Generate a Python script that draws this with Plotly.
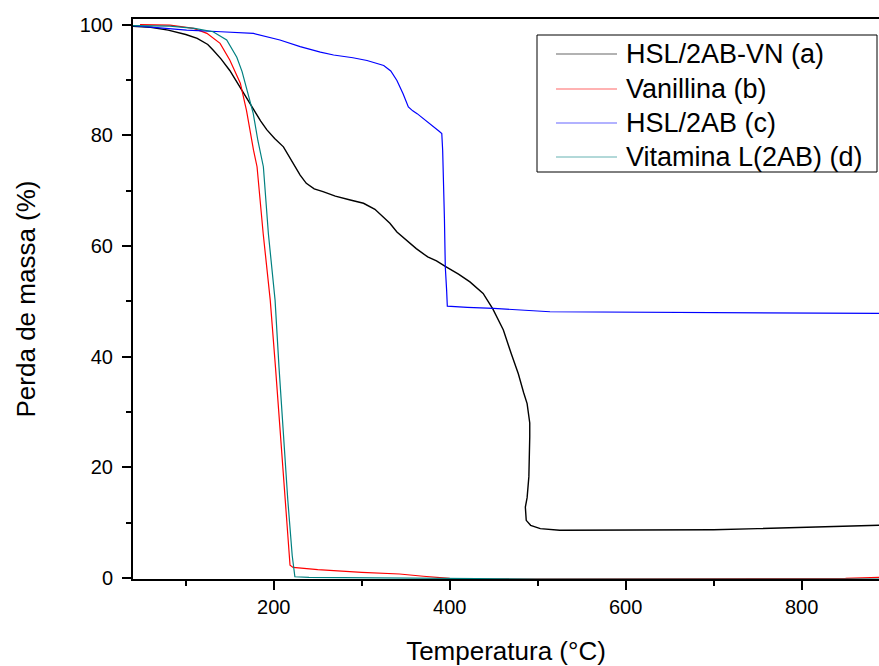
import plotly.graph_objects as go

# HSL/2AB-VN (a)
t_a = [40, 60, 80, 100, 113, 125, 131, 140, 150, 162, 170, 177, 185, 192, 201, 211, 222, 230, 237, 246,
       256, 270, 287, 302, 315, 324, 332, 340, 350, 362, 375, 385, 395, 410, 423, 438, 449, 461, 470, 478,
       484, 488, 491, 491, 490, 488, 486, 487, 492, 503, 525, 548, 600, 650, 700, 750, 800, 850, 888]
y_a = [99.7, 99.5, 99.0, 98.2, 97.5, 96.4, 95.4, 93.8, 91.7, 88.5, 86.5, 84.5, 82.6, 81.0, 79.4, 77.9, 74.9, 72.8, 71.3, 70.3,
       69.8, 69.0, 68.3, 67.7, 66.6, 65.2, 64.1, 62.5, 61.1, 59.5, 58.0, 57.3, 56.3, 54.9, 53.5, 51.4, 48.6, 44.8, 40.5, 36.9,
       33.5, 31.5, 28.0, 25.5, 18.3, 14.5, 12.8, 10.4, 9.5, 8.9, 8.6, 8.6, 8.6, 8.6, 8.7, 8.9, 9.1, 9.3, 9.5]

# Vanillina (b)
t_b = [48, 82, 109, 124, 139, 150, 162, 169, 177, 181, 188, 196, 202, 207.5, 213, 218.5, 222, 250, 300, 343,
       370, 400, 450, 500, 600, 700, 800, 850, 888]
y_b = [100, 99.9, 99.3, 98.4, 96.6, 93.6, 89.4, 84.5, 77.3, 74.3, 62.2, 50.2, 38.0, 26.1, 14.0, 2.3, 1.9, 1.5, 1.0, 0.7,
       0.3, -0.1, -0.2, -0.2, -0.2, -0.2, -0.2, -0.1, 0.1]

# HSL/2AB (c)
t_c = [40, 70, 101, 140, 177, 207, 230, 253, 268, 290, 306, 325, 333, 340, 347, 353, 358, 363, 372, 381.5,
       388, 391, 392, 394, 395, 396.5, 397.3, 420, 450, 514, 600, 700, 800, 888]
y_c = [99.8, 99.4, 99.0, 98.7, 98.4, 97.2, 96.0, 95.0, 94.5, 94.0, 93.5, 92.6, 91.6, 89.9, 87.5, 85.1, 84.4, 83.9, 82.8, 81.5,
       80.7, 80.3, 77.3, 65.0, 56.2, 52.0, 49.1, 48.9, 48.7, 48.1, 48.0, 47.9, 47.8, 47.8]

# Vitamina L(2AB) (d)
t_d = [40, 82, 110, 131, 146.5, 158, 164, 169, 176.6, 182, 188.2, 193.9, 201.5, 206, 210.7, 216, 221, 224, 240, 300,
       400, 500, 600, 700, 800, 888]
y_d = [99.8, 99.7, 99.3, 98.7, 97.2, 94.1, 91.5, 88.7, 84.0, 79.0, 74.3, 62.2, 50.2, 38.0, 26.1, 14.0, 4.0, 0.2, 0.1, 0.0,
       -0.1, -0.2, -0.2, -0.2, -0.2, -0.2]

names = ["HSL/2AB-VN (a)", "Vanillina (b)", "HSL/2AB (c)", "Vitamina L(2AB) (d)"]
colors = ["#000000", "#FF0000", "#0000FF", "#008080"]

x_ticks = [200, 400, 600, 800]
y_ticks = [0, 20, 40, 60, 80, 100]

FONT = "Liberation Sans, Arial, sans-serif"
W, H = 879, 666
ML, MR, MT, MB = 133, 0, 19, 87
PW, PH = W - ML - MR, H - MT - MB


def px(x):
    return (x - ML) / PW


def py(y):
    return (H - MB - y) / PH


fig = go.Figure()
for t, y, n, c in zip([t_a, t_b, t_c, t_d], [y_a, y_b, y_c, y_d], names, colors):
    fig.add_trace(go.Scatter(x=t, y=y, mode="lines", name=n,
                             line=dict(color=c, width=1.4 if c == "#000000" else 1.2)))

# legend drawn as a framed box with line samples and text
shapes = [dict(type="rect", xref="paper", yref="paper", x0=px(537), x1=px(877), y0=py(172), y1=py(35),
               line=dict(color="black", width=1), fillcolor="white", layer="above")]
annotations = []
row_y = [54, 89, 123, 157]
for n, c, ry in zip(names, colors, row_y):
    shapes.append(dict(type="line", xref="paper", yref="paper", x0=px(556), x1=px(617), y0=py(ry), y1=py(ry),
                       line=dict(color=c, width=1), opacity=0.6, layer="above"))
    annotations.append(dict(text=n, xref="paper", yref="paper", x=px(624), y=py(ry), xanchor="left",
                            yanchor="middle", showarrow=False, font=dict(size=27, family=FONT, color="black")))

fig.update_layout(
    width=W, height=H,
    margin=dict(l=ML, r=MR, t=MT, b=MB),
    paper_bgcolor="white", plot_bgcolor="white",
    font=dict(family=FONT, color="black", size=20),
    showlegend=False,
    shapes=shapes, annotations=annotations,
    xaxis=dict(range=[40, 888], tickvals=x_ticks, ticks="outside", ticklen=9, tickwidth=2,
               tickcolor="black", showline=True, linewidth=2, linecolor="black", mirror=True,
               showgrid=False, zeroline=False, tickfont=dict(size=20),
               minor=dict(tickvals=[100, 300, 500, 700], ticks="outside", ticklen=5, tickwidth=2, tickcolor="black"),
               title=dict(text="Temperatura (°C)", font=dict(size=26), standoff=25)),
    yaxis=dict(range=[-0.2, 101], tickvals=y_ticks, ticks="outside", ticklen=9, tickwidth=2,
               tickcolor="black", showline=True, linewidth=2, linecolor="black", mirror=False,
               showgrid=False, zeroline=False, tickfont=dict(size=20), ticklabelstandoff=5,
               minor=dict(tickvals=[10, 30, 50, 70, 90], ticks="outside", ticklen=5, tickwidth=2, tickcolor="black"),
               title=dict(text="Perda de massa (%)", font=dict(size=26), standoff=37)),
)

fig.write_html("out.html")
